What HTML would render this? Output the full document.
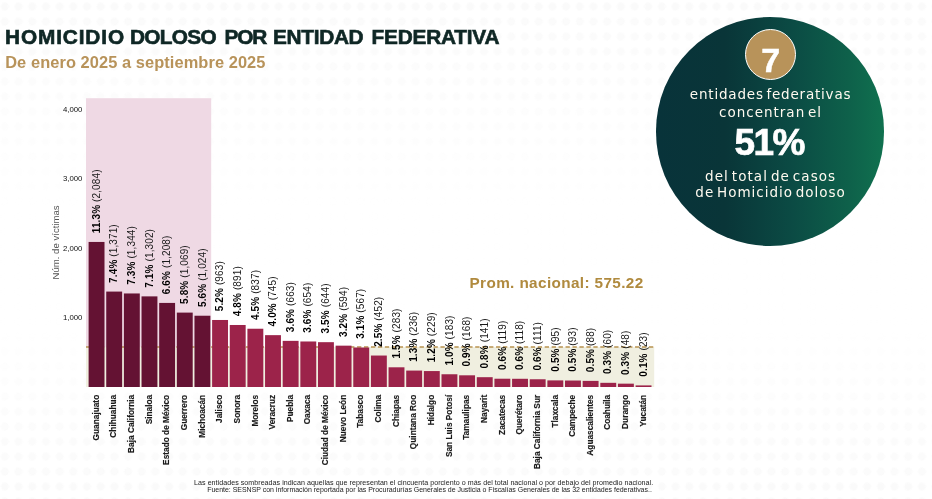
<!DOCTYPE html>
<html lang="es"><head><meta charset="utf-8"><title>Homicidio doloso por entidad federativa</title>
<style>
html,body{margin:0;padding:0;background:#fff;}
#pat{position:absolute;left:0;top:0;width:932px;height:499px;background-image:radial-gradient(circle at 50% 50%,#fafafa 0,#fafafa 3px,rgba(255,255,255,0) 5px);background-size:13.7px 15px;background-position:-2px -1px;-webkit-mask-image:linear-gradient(to bottom,#000 0%,rgba(0,0,0,0.5) 20%,rgba(0,0,0,0.05) 42%,rgba(0,0,0,0.05) 66%,rgba(0,0,0,0.7) 86%,#000 100%);mask-image:linear-gradient(to bottom,#000 0%,rgba(0,0,0,0.5) 20%,rgba(0,0,0,0.05) 42%,rgba(0,0,0,0.05) 66%,rgba(0,0,0,0.7) 86%,#000 100%);}
body{width:932px;height:499px;overflow:hidden;position:relative;font-family:"Liberation Sans",sans-serif;}
.abs{position:absolute;white-space:nowrap;}
#title{left:0;top:23.3px;font-size:20.8px;font-weight:bold;color:#0f2725;line-height:28px;-webkit-text-stroke:0.65px #0f2725;}
#title span{position:absolute;top:0;}
#sub{left:5.2px;top:50.8px;letter-spacing:0.08px;font-size:16.4px;font-weight:bold;color:#b8935a;line-height:22px;}
#circle{left:655.8px;top:17.3px;width:228.4px;height:228.4px;border-radius:50%;
 background:linear-gradient(90deg,#08333a 0%,#093538 30%,#0b4b44 60%,#0e604a 84%,#10714f 100%);}
#seven{left:745.2px;top:29.3px;width:49.2px;height:49.2px;border-radius:50%;background:#b8935a;border:1px solid #fff;}
#seven span{position:absolute;left:0;width:100%;text-align:center;top:9.7px;font-size:34px;font-weight:bold;color:#fff;line-height:40px;-webkit-text-stroke:0.5px #fff;}
.ct{color:#fffaf0;text-align:center;left:656.6px;width:228px;font-family:"DejaVu Sans","Liberation Sans",sans-serif;font-size:13.5px;letter-spacing:0.8px;word-spacing:-2.4px;line-height:17px;}
#c1{top:86px;}
#c2{top:103.5px;letter-spacing:0.99px;}
#c3{top:123.3px;left:655.2px;word-spacing:0;-webkit-text-stroke:0.7px #fff;font-family:"Liberation Sans",sans-serif;font-size:37px;font-weight:bold;line-height:40px;color:#fff;letter-spacing:-1.5px;}
#c4{top:168px;letter-spacing:1.06px;}
#c5{top:184px;letter-spacing:0.98px;}
.ft{font-size:7.1px;color:#222;line-height:8px;right:278.8px;text-align:right;letter-spacing:0.037px;}
#f1{top:479px;}
#f2{top:486px;font-size:7px;letter-spacing:-0.022px;right:280.2px;}
svg{position:absolute;left:0;top:0;}
svg text{font-family:"Liberation Sans",sans-serif;}
.vl{font-size:10px;fill:#1a1a1a;letter-spacing:0.12px;}
.vl .b{font-weight:bold;fill:#000;}
.cl{font-size:8.3px;font-weight:bold;fill:#1a1a1a;stroke:#1a1a1a;stroke-width:0.15px;text-anchor:end;}
.yl{font-size:7.8px;fill:#111;text-anchor:end;}
.yt{font-size:9.6px;fill:#555;}
.prom{font-size:15.3px;font-weight:bold;fill:#b08a3e;letter-spacing:0.38px;}
</style></head><body>
<div id="pat"></div>
<div id="title" class="abs"><span style="left:5px;letter-spacing:0.875px">HOMICIDIO </span><span style="left:130px;letter-spacing:-0.68px">DOLOSO </span><span style="left:224.5px;letter-spacing:-1.1px">POR </span><span style="left:273px;letter-spacing:-0.3px">ENTIDAD </span><span style="left:371.5px;letter-spacing:-0.2px">FEDERATIVA</span></div>
<div id="sub" class="abs">De enero 2025 a septiembre 2025</div>
<svg width="932" height="499" viewBox="0 0 932 499">
<rect x="86" y="98.2" width="125.2" height="248.76" fill="#efd9e4"/>
<rect x="86" y="346.96" width="568.2" height="40.04" fill="#f0efe0"/>
<line x1="86" x2="654.2" y1="346.96" y2="346.96" stroke="#b8924f" stroke-width="1.5" stroke-dasharray="4.3 2.65"/>
<rect x="88.60" y="241.95" width="15.9" height="145.05" fill="#641233"/>
<rect x="106.24" y="291.58" width="15.9" height="95.42" fill="#641233"/>
<rect x="123.89" y="293.46" width="15.9" height="93.54" fill="#641233"/>
<rect x="141.53" y="296.38" width="15.9" height="90.62" fill="#641233"/>
<rect x="159.18" y="302.92" width="15.9" height="84.08" fill="#641233"/>
<rect x="176.82" y="312.60" width="15.9" height="74.40" fill="#641233"/>
<rect x="194.47" y="315.73" width="15.9" height="71.27" fill="#641233"/>
<rect x="212.12" y="319.98" width="15.9" height="67.02" fill="#9c234a"/>
<rect x="229.76" y="324.99" width="15.9" height="62.01" fill="#9c234a"/>
<rect x="247.41" y="328.74" width="15.9" height="58.26" fill="#9c234a"/>
<rect x="265.05" y="335.15" width="15.9" height="51.85" fill="#9c234a"/>
<rect x="282.69" y="340.86" width="15.9" height="46.14" fill="#9c234a"/>
<rect x="300.34" y="341.48" width="15.9" height="45.52" fill="#9c234a"/>
<rect x="317.99" y="342.18" width="15.9" height="44.82" fill="#9c234a"/>
<rect x="335.63" y="345.66" width="15.9" height="41.34" fill="#9c234a"/>
<rect x="353.27" y="347.54" width="15.9" height="39.46" fill="#9c234a"/>
<rect x="370.92" y="355.54" width="15.9" height="31.46" fill="#9c234a"/>
<rect x="388.56" y="367.30" width="15.9" height="19.70" fill="#9c234a"/>
<rect x="406.21" y="370.57" width="15.9" height="16.43" fill="#9c234a"/>
<rect x="423.86" y="371.06" width="15.9" height="15.94" fill="#9c234a"/>
<rect x="441.50" y="374.26" width="15.9" height="12.74" fill="#9c234a"/>
<rect x="459.14" y="375.31" width="15.9" height="11.69" fill="#9c234a"/>
<rect x="476.79" y="377.19" width="15.9" height="9.81" fill="#9c234a"/>
<rect x="494.43" y="378.72" width="15.9" height="8.28" fill="#9c234a"/>
<rect x="512.08" y="378.79" width="15.9" height="8.21" fill="#9c234a"/>
<rect x="529.73" y="379.27" width="15.9" height="7.73" fill="#9c234a"/>
<rect x="547.37" y="380.39" width="15.9" height="6.61" fill="#9c234a"/>
<rect x="565.01" y="380.53" width="15.9" height="6.47" fill="#9c234a"/>
<rect x="582.66" y="380.88" width="15.9" height="6.12" fill="#9c234a"/>
<rect x="600.30" y="382.82" width="15.9" height="4.18" fill="#9c234a"/>
<rect x="617.95" y="383.66" width="15.9" height="3.34" fill="#9c234a"/>
<rect x="635.60" y="385.40" width="15.9" height="1.60" fill="#9c234a"/>
<text class="vl" transform="translate(99.75,233.25) rotate(-90)"><tspan class="b">11.3%</tspan> (2,084)</text>
<text class="vl" transform="translate(117.39,282.88) rotate(-90)"><tspan class="b">7.4%</tspan> (1,371)</text>
<text class="vl" transform="translate(135.04,284.76) rotate(-90)"><tspan class="b">7.3%</tspan> (1,344)</text>
<text class="vl" transform="translate(152.68,287.68) rotate(-90)"><tspan class="b">7.1%</tspan> (1,302)</text>
<text class="vl" transform="translate(170.33,294.22) rotate(-90)"><tspan class="b">6.6%</tspan> (1,208)</text>
<text class="vl" transform="translate(187.97,303.90) rotate(-90)"><tspan class="b">5.8%</tspan> (1,069)</text>
<text class="vl" transform="translate(205.62,307.03) rotate(-90)"><tspan class="b">5.6%</tspan> (1,024)</text>
<text class="vl" transform="translate(223.26,311.28) rotate(-90)"><tspan class="b">5.2%</tspan> (963)</text>
<text class="vl" transform="translate(240.91,316.29) rotate(-90)"><tspan class="b">4.8%</tspan> (891)</text>
<text class="vl" transform="translate(258.56,320.04) rotate(-90)"><tspan class="b">4.5%</tspan> (837)</text>
<text class="vl" transform="translate(276.20,326.45) rotate(-90)"><tspan class="b">4.0%</tspan> (745)</text>
<text class="vl" transform="translate(293.84,332.16) rotate(-90)"><tspan class="b">3.6%</tspan> (663)</text>
<text class="vl" transform="translate(311.49,332.78) rotate(-90)"><tspan class="b">3.6%</tspan> (654)</text>
<text class="vl" transform="translate(329.13,333.48) rotate(-90)"><tspan class="b">3.5%</tspan> (644)</text>
<text class="vl" transform="translate(346.78,336.96) rotate(-90)"><tspan class="b">3.2%</tspan> (594)</text>
<text class="vl" transform="translate(364.42,338.84) rotate(-90)"><tspan class="b">3.1%</tspan> (567)</text>
<text class="vl" transform="translate(382.07,346.84) rotate(-90)"><tspan class="b">2.5%</tspan> (452)</text>
<text class="vl" transform="translate(399.71,358.60) rotate(-90)"><tspan class="b">1.5%</tspan> (283)</text>
<text class="vl" transform="translate(417.36,361.87) rotate(-90)"><tspan class="b">1.3%</tspan> (236)</text>
<text class="vl" transform="translate(435.00,362.36) rotate(-90)"><tspan class="b">1.2%</tspan> (229)</text>
<text class="vl" transform="translate(452.65,365.56) rotate(-90)"><tspan class="b">1.0%</tspan> (183)</text>
<text class="vl" transform="translate(470.29,366.61) rotate(-90)"><tspan class="b">0.9%</tspan> (168)</text>
<text class="vl" transform="translate(487.94,368.49) rotate(-90)"><tspan class="b">0.8%</tspan> (141)</text>
<text class="vl" transform="translate(505.58,370.02) rotate(-90)"><tspan class="b">0.6%</tspan> (119)</text>
<text class="vl" transform="translate(523.23,370.09) rotate(-90)"><tspan class="b">0.6%</tspan> (118)</text>
<text class="vl" transform="translate(540.88,370.57) rotate(-90)"><tspan class="b">0.6%</tspan> (111)</text>
<text class="vl" transform="translate(558.52,371.69) rotate(-90)"><tspan class="b">0.5%</tspan> (95)</text>
<text class="vl" transform="translate(576.17,371.83) rotate(-90)"><tspan class="b">0.5%</tspan> (93)</text>
<text class="vl" transform="translate(593.81,372.18) rotate(-90)"><tspan class="b">0.5%</tspan> (88)</text>
<text class="vl" transform="translate(611.46,374.12) rotate(-90)"><tspan class="b">0.3%</tspan> (60)</text>
<text class="vl" transform="translate(629.10,374.96) rotate(-90)"><tspan class="b">0.3%</tspan> (48)</text>
<text class="vl" transform="translate(646.75,376.70) rotate(-90)"><tspan class="b">0.1%</tspan> (23)</text>
<text class="cl" transform="translate(98.75,394.8) rotate(-90)">Guanajuato</text>
<text class="cl" transform="translate(116.39,394.8) rotate(-90)">Chihuahua</text>
<text class="cl" transform="translate(134.04,394.8) rotate(-90)">Baja California</text>
<text class="cl" transform="translate(151.68,394.8) rotate(-90)">Sinaloa</text>
<text class="cl" transform="translate(169.33,394.8) rotate(-90)">Estado de México</text>
<text class="cl" transform="translate(186.97,394.8) rotate(-90)">Guerrero</text>
<text class="cl" transform="translate(204.62,394.8) rotate(-90)">Michoacán</text>
<text class="cl" transform="translate(222.26,394.8) rotate(-90)">Jalisco</text>
<text class="cl" transform="translate(239.91,394.8) rotate(-90)">Sonora</text>
<text class="cl" transform="translate(257.56,394.8) rotate(-90)">Morelos</text>
<text class="cl" transform="translate(275.20,394.8) rotate(-90)">Veracruz</text>
<text class="cl" transform="translate(292.84,394.8) rotate(-90)">Puebla</text>
<text class="cl" transform="translate(310.49,394.8) rotate(-90)">Oaxaca</text>
<text class="cl" transform="translate(328.13,394.8) rotate(-90)">Ciudad de México</text>
<text class="cl" transform="translate(345.78,394.8) rotate(-90)">Nuevo León</text>
<text class="cl" transform="translate(363.42,394.8) rotate(-90)">Tabasco</text>
<text class="cl" transform="translate(381.07,394.8) rotate(-90)">Colima</text>
<text class="cl" transform="translate(398.71,394.8) rotate(-90)">Chiapas</text>
<text class="cl" transform="translate(416.36,394.8) rotate(-90)">Quintana Roo</text>
<text class="cl" transform="translate(434.00,394.8) rotate(-90)">Hidalgo</text>
<text class="cl" transform="translate(451.65,394.8) rotate(-90)">San Luis Potosí</text>
<text class="cl" transform="translate(469.29,394.8) rotate(-90)">Tamaulipas</text>
<text class="cl" transform="translate(486.94,394.8) rotate(-90)">Nayarit</text>
<text class="cl" transform="translate(504.58,394.8) rotate(-90)">Zacatecas</text>
<text class="cl" transform="translate(522.23,394.8) rotate(-90)">Querétaro</text>
<text class="cl" transform="translate(539.88,394.8) rotate(-90)">Baja California Sur</text>
<text class="cl" transform="translate(557.52,394.8) rotate(-90)">Tlaxcala</text>
<text class="cl" transform="translate(575.17,394.8) rotate(-90)">Campeche</text>
<text class="cl" transform="translate(592.81,394.8) rotate(-90)">Aguascalientes</text>
<text class="cl" transform="translate(610.46,394.8) rotate(-90)">Coahuila</text>
<text class="cl" transform="translate(628.10,394.8) rotate(-90)">Durango</text>
<text class="cl" transform="translate(645.75,394.8) rotate(-90)">Yucatán</text>
<text class="yl" x="82.4" y="111.60">4,000</text>
<text class="yl" x="82.4" y="181.20">3,000</text>
<text class="yl" x="82.4" y="250.80">2,000</text>
<text class="yl" x="82.4" y="320.40">1,000</text>
<text class="yt" transform="translate(59.2,279.5) rotate(-90)">Núm. de víctimas</text>
<text class="prom" x="469.5" y="287.9">Prom. nacional: 575.22</text>
</svg>
<div id="circle" class="abs"></div>
<div id="seven" class="abs"><span>7</span></div>
<div id="c1" class="abs ct">entidades federativas</div>
<div id="c2" class="abs ct">concentran el</div>
<div id="c3" class="abs ct">51%</div>
<div id="c4" class="abs ct">del total de casos</div>
<div id="c5" class="abs ct">de Homicidio doloso</div>
<div id="f1" class="abs ft">Las entidades sombreadas indican aquellas que representan el cincuenta porciento o más del total nacional o por debajo del promedio nacional.</div>
<div id="f2" class="abs ft">Fuente: SESNSP con información reportada por las Procuradurías Generales de Justicia o Fiscalías Generales de las 32 entidades federativas..</div>
</body></html>
